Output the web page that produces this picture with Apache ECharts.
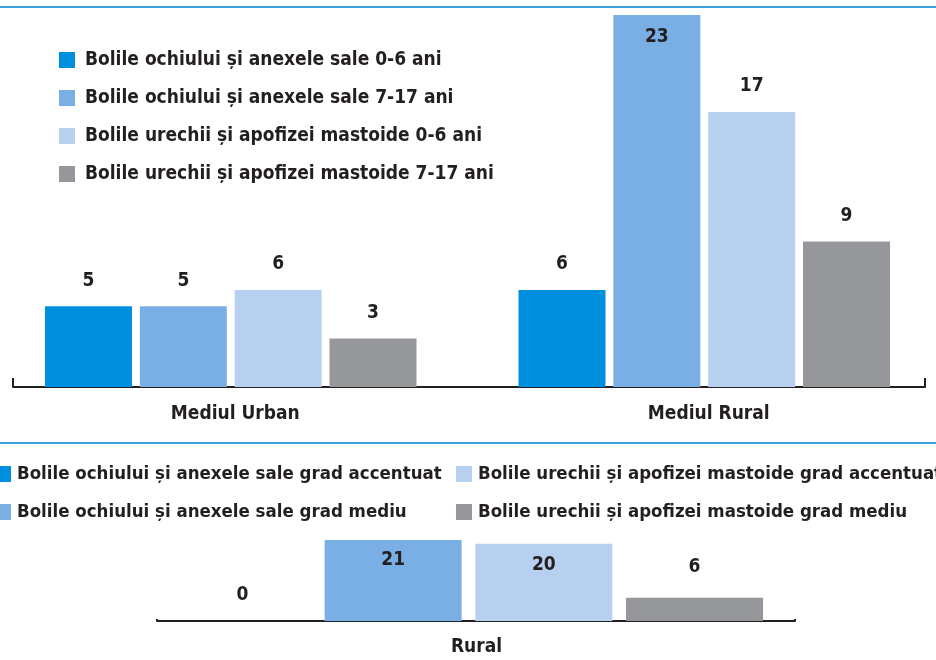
<!DOCTYPE html>
<html>
<head>
<meta charset="utf-8">
<script src="https://cdn.jsdelivr.net/npm/echarts@6/dist/echarts.min.js"></script>
<style>
  html, body { margin: 0; padding: 0; background: #fff; }
  #chart { width: 936px; height: 660px; }
</style>
</head>
<body>
<div id="chart"></div>
<script>
// date - grafic de sus (pe mediu)
const topCategories = ["Mediul Urban", "Mediul Rural"];
const topSeriesNames = [
  "Bolile ochiului și anexele sale 0-6 ani",
  "Bolile ochiului și anexele sale 7-17 ani",
  "Bolile urechii și apofizei mastoide 0-6 ani",
  "Bolile urechii și apofizei mastoide 7-17 ani",
];
const topValues = [
  [5, 6],
  [5, 23],
  [6, 17],
  [3, 9],
];

// date - grafic de jos (pe grad)
const bottomCategories = ["Rural"];
const bottomSeriesNames = [
  "Bolile ochiului și anexele sale grad accentuat",
  "Bolile ochiului și anexele sale grad mediu",
  "Bolile urechii și apofizei mastoide grad accentuat",
  "Bolile urechii și apofizei mastoide grad mediu",
];
const bottomValues = [[0], [21], [20], [6]];

const colors = ["#008fdf", "#7aafe6", "#b8d0f0", "#96979b"];
const font = "'DejaVu Sans Condensed', 'Liberation Sans Narrow', sans-serif";
const textColor = "#231f20";

const chart = echarts.init(document.getElementById("chart"));

function labelFor(value, maxValue, inside, dist) {
  return {
    show: true,
    position: value === maxValue && inside ? "insideTop" : "top",
    distance: value === maxValue && inside ? inside : dist,
    color: textColor,
    fontFamily: font,
    fontWeight: "bold",
    fontSize: 19,
  };
}

let series = [];
topSeriesNames.forEach((name, i) => {
  series.push({
    name: name,
    type: "bar",
    xAxisIndex: 0,
    yAxisIndex: 0,
    barWidth: 87,
    barGap: "9%",
    itemStyle: { color: colors[i] },
    data: topValues[i].map((v) => ({ value: v, label: labelFor(v, 23, 13, 16) })),
  });
});
bottomSeriesNames.forEach((name, i) => {
  series.push({
    name: name,
    type: "bar",
    xAxisIndex: 2,
    yAxisIndex: 2,
    barWidth: 137,
    barGap: "10%",
    itemStyle: { color: colors[i] },
    data: bottomValues[i].map((v) => {
      let lbl = labelFor(v, -1, 0, v === 0 ? 16 : 21);
      if (v >= 20) {
        lbl.position = "insideTop";
        lbl.distance = v === 21 ? 11 : 12;
      }
      return { value: v, label: lbl };
    }),
  });
});

const legendText = {
  color: textColor,
  fontFamily: font,
  fontWeight: "bold",
  lineHeight: 22,
};

const option = {
  animation: false,
  graphic: [
    { type: "rect", shape: { x: 0, y: 6, width: 936, height: 2 }, style: { fill: "#3ea0dd" } },
    { type: "rect", shape: { x: 0, y: 442, width: 936, height: 2 }, style: { fill: "#3ea0dd" } },
  ],
  legend: [
    {
      data: topSeriesNames,
      orient: "vertical",
      left: 59,
      top: 49,
      padding: 0,
      itemWidth: 16,
      itemHeight: 16,
      itemGap: 16,
      icon: "rect",
      textStyle: Object.assign({ fontSize: 19, padding: [0, 0, 0, 5] }, legendText),
    },
    {
      data: bottomSeriesNames.slice(0, 2),
      orient: "vertical",
      left: -5,
      top: 463,
      padding: 0,
      itemWidth: 16,
      itemHeight: 16,
      itemGap: 16,
      icon: "rect",
      textStyle: Object.assign({ fontSize: 18.5, padding: [0, 0, 0, 1] }, legendText),
    },
    {
      data: bottomSeriesNames.slice(2),
      orient: "vertical",
      left: 456,
      top: 463,
      padding: 0,
      itemWidth: 16,
      itemHeight: 16,
      itemGap: 16,
      icon: "rect",
      textStyle: Object.assign({ fontSize: 18.5, padding: [0, 0, 0, 1] }, legendText),
    },
  ],
  grid: [
    // bare sus
    { left: -6, right: -5, top: 15, bottom: 273, outerBoundsMode: "none" },
    // linia axei sus
    { left: 13, right: 11, top: 15, bottom: 273, outerBoundsMode: "none" },
    // bare jos
    { left: 150, right: 149, top: 540, bottom: 39, outerBoundsMode: "none" },
    // linia axei jos
    { left: 157, right: 141, top: 540, bottom: 39, outerBoundsMode: "none" },
  ],
  xAxis: [
    {
      gridIndex: 0,
      type: "category",
      data: topCategories,
      axisLine: { show: false },
      axisTick: { show: false },
      axisLabel: {
        margin: 18,
        padding: [0, 0, 0, 9],
        color: textColor,
        fontFamily: font,
        fontWeight: "bold",
        fontSize: 19,
      },
    },
    {
      gridIndex: 1,
      type: "category",
      data: [""],
      axisLine: { lineStyle: { color: textColor, width: 2 } },
      axisTick: { show: true, inside: true, length: 9, lineStyle: { color: textColor, width: 2 } },
      axisLabel: { show: false },
    },
    {
      gridIndex: 2,
      type: "category",
      data: bottomCategories,
      axisLine: { show: false },
      axisTick: { show: false },
      axisLabel: {
        margin: 17,
        padding: [0, 0, 0, 16],
        color: textColor,
        fontFamily: font,
        fontWeight: "bold",
        fontSize: 19,
      },
    },
    {
      gridIndex: 3,
      type: "category",
      data: [""],
      axisLine: { lineStyle: { color: textColor, width: 2 } },
      axisTick: { show: true, inside: true, length: 2, lineStyle: { color: textColor, width: 2 } },
      axisLabel: { show: false },
    },
  ],
  yAxis: [
    { gridIndex: 0, type: "value", min: 0, max: 23, show: false },
    { gridIndex: 1, type: "value", min: 0, max: 1, show: false },
    { gridIndex: 2, type: "value", min: 0, max: 21, show: false },
    { gridIndex: 3, type: "value", min: 0, max: 1, show: false },
  ],
  series: series,
};

chart.setOption(option);
</script>
</body>
</html>
